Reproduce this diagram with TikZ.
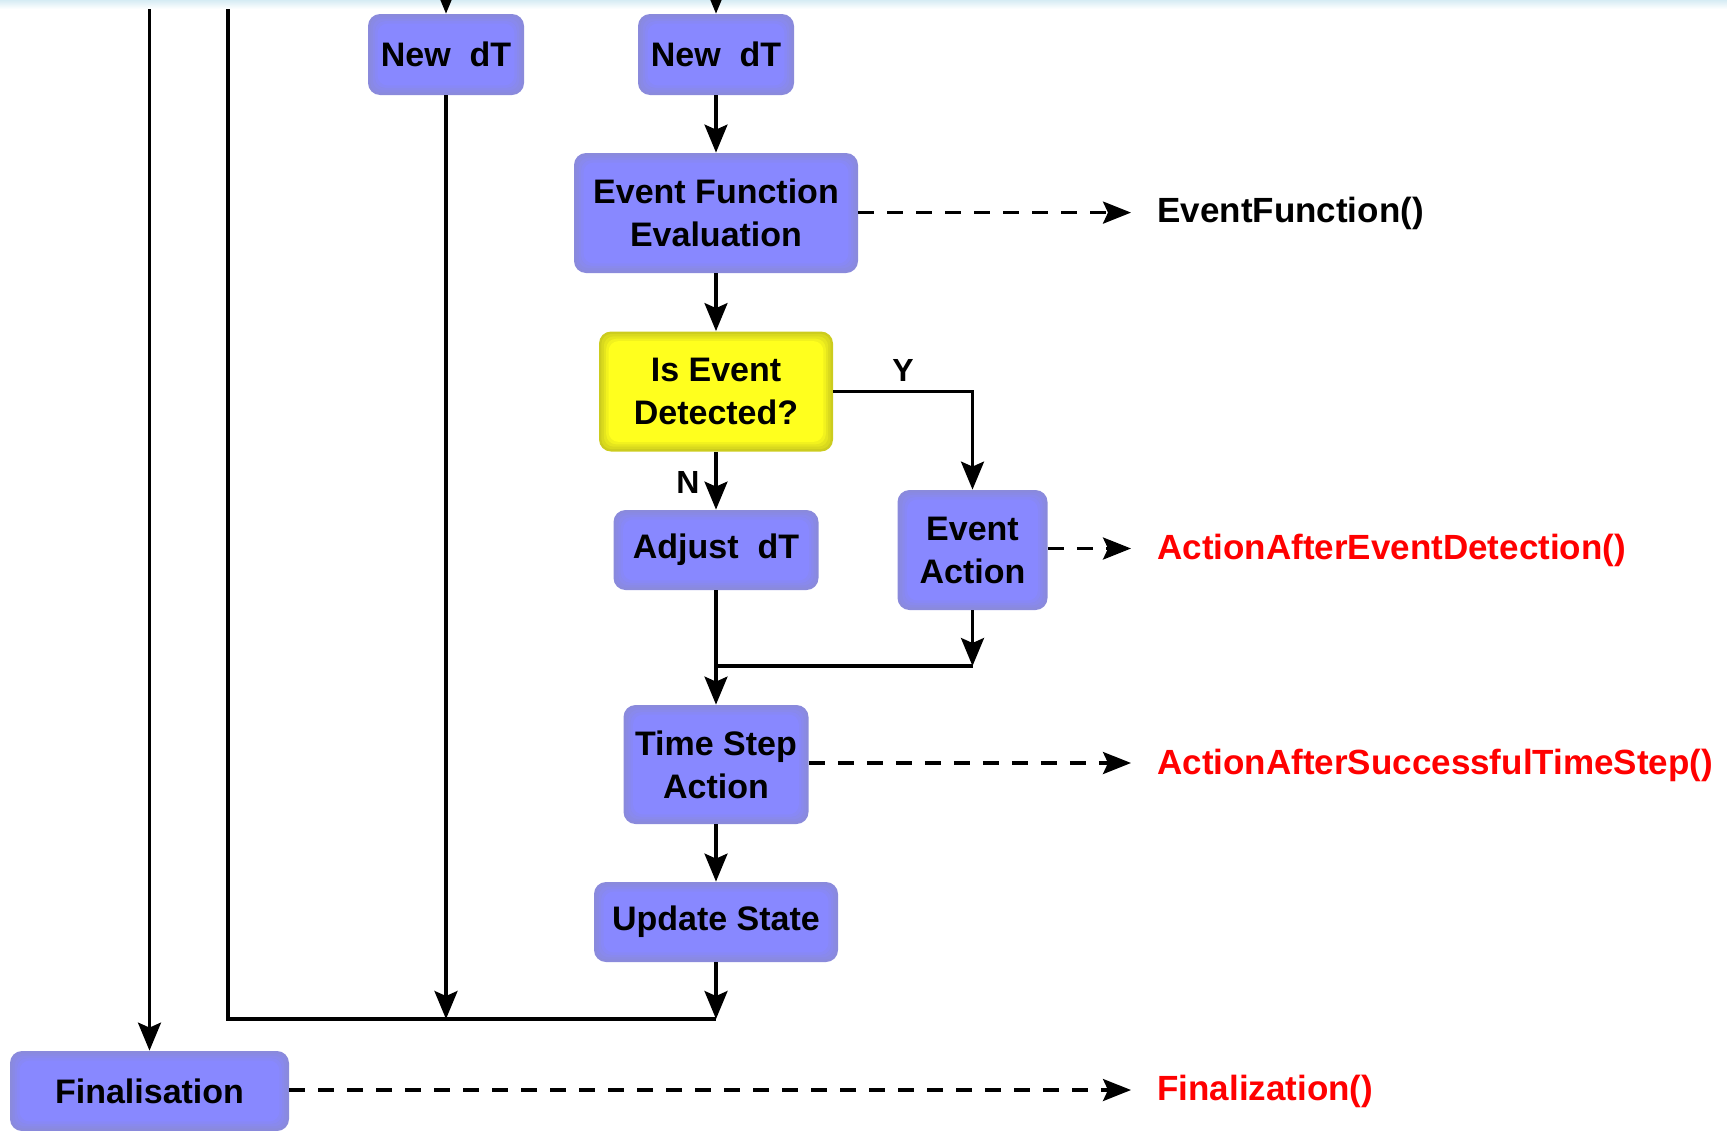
\documentclass[tikz,border=0pt]{standalone}
\usepackage{fontspec}
\setmainfont{Liberation Sans}
\usetikzlibrary{arrows.meta}

\definecolor{boxedge}{RGB}{138,138,220}
\definecolor{boxcore}{RGB}{136,136,255}
\definecolor{decedge}{RGB}{204,204,30}
\definecolor{deccore}{RGB}{255,255,30}
\definecolor{hookred}{RGB}{255,0,0}
\definecolor{topband}{RGB}{214,236,244}

\tikzset{
  % rounded box whose rim fades from a darker tone into the core colour
  layered/.style 2 args={
    fill=#1, draw=none, rounded corners=6pt, inner sep=0pt,
    path picture={
      \foreach \d/\m in {1.2/75,2.4/50,3.6/25,4.8/0}{
        \fill[#1!\m!#2, rounded corners=5pt]
          ([shift={(\d pt,-\d pt)}]path picture bounding box.north west) rectangle
          ([shift={(-\d pt,\d pt)}]path picture bounding box.south east);
      }
    }},
  boxtext/.style={font=\bfseries\fontsize{17}{21.5}\selectfont, align=center, text=black},
  procbox/.style={layered={boxedge}{boxcore}, boxtext},
  decbox/.style={layered={decedge}{deccore}, boxtext},
  flow/.style={line width=1.6pt, -{Stealth[length=14pt,width=11.5pt,inset=2.5pt]}},
  plain/.style={line width=1.6pt},
  hook/.style={line width=1.6pt, dash pattern=on 8pt off 6.5pt,
    -{Stealth[length=14pt,width=11pt,inset=2.5pt]}},
  hooktext/.style={font=\bfseries\fontsize{17.5}{21}\selectfont, anchor=west, inner sep=0pt},
  yn/.style={font=\bfseries\fontsize{16}{19}\selectfont, inner sep=0pt}
}

\begin{document}
\begin{tikzpicture}[x=0.5pt,y=-0.5pt]
\useasboundingbox (0,0) rectangle (1727,1130);

% thin band along the top edge
\shade[top color=topband, bottom color=white] (0,0) rectangle (1727,9);

% process boxes
\node[procbox, minimum width=78pt, minimum height=40.5pt] (nd1) at (446,54.5) {New\ \ dT};
\node[procbox, minimum width=78pt, minimum height=40.5pt] (nd2) at (716,54.5) {New\ \ dT};
\node[procbox, minimum width=142pt, minimum height=60pt] (efe) at (716,213) {Event Function\\Evaluation};
\node[decbox, minimum width=117pt, minimum height=60pt] (ied) at (716,391.5) {Is Event\\Detected?};
\node[procbox, minimum width=102.5pt, minimum height=40pt] (adj) at (716,550) {Adjust\ \ dT};
\node[procbox, minimum width=75pt, minimum height=60pt] (eva) at (972.5,550) {Event\\Action};
\node[procbox, minimum width=92.5pt, minimum height=59.5pt] (tsa) at (716,764.5) {Time Step\\Action};
\node[procbox, minimum width=122pt, minimum height=40pt] (ups) at (716,922) {Update State};
\node[procbox, minimum width=139.5pt, minimum height=40pt] (fin) at (149.5,1091) {Finalisation};

% helper points
\coordinate (inA) at (446,0);
\coordinate (inB) at (716,0);
\coordinate (lA) at (149.5,9);
\coordinate (lB) at (228,9);
\coordinate (cB) at (228,1019);
\coordinate (jA) at (446,1019);
\coordinate (jB) at (716,1019);
\coordinate (yc) at (972.5,391.5);
\coordinate (mg) at (972.5,666);
\coordinate (mj) at (716,666);

% main flow
\draw[flow] (inA) -- (nd1.north);
\draw[flow] (inB) -- (nd2.north);
\draw[flow] (lA) -- (fin.north);
\draw[plain] (lB) -- (cB) -- (jB);
\draw[flow] (nd1.south) -- (jA);
\draw[flow] (nd2.south) -- (efe.north);
\draw[flow] (efe.south) -- (ied.north);
\draw[flow] (ied.south) -- (adj.north);
\draw[flow] (ied.east) -- (yc) -- (eva.north);
\draw[flow] (eva.south) -- (mg);
\draw[plain] (mg) -- (mj);
\draw[flow] (adj.south) -- (tsa.north);
\draw[flow] (tsa.south) -- (ups.north);
\draw[flow] (ups.south) -- (jB);

\node[yn] (ylab) at (903,370) {Y};
\node[yn] (nlab) at (688,482) {N};

% user hooks
\coordinate (h1) at (1131,212.6);
\coordinate (h2) at (1131,548.5);
\coordinate (h3) at (1131,763);
\coordinate (h4) at (1131,1090);
\draw[hook] (efe.east |- h1) -- (h1);
\draw[hook] (eva.east |- h2) -- (h2);
\draw[hook] (tsa.east |- h3) -- (h3);
\draw[hook] (fin.east |- h4) -- (h4);

\node[hooktext] (t1) at (1157,213.5) {EventFunction()};
\node[hooktext, text=hookred] (t2) at (1157,550.5) {ActionAfterEventDetection()};
\node[hooktext, text=hookred] (t3) at (1157,765) {ActionAfterSuccessfulTimeStep()};
\node[hooktext, text=hookred] (t4) at (1157,1091.5) {Finalization()};
\end{tikzpicture}
\end{document}
